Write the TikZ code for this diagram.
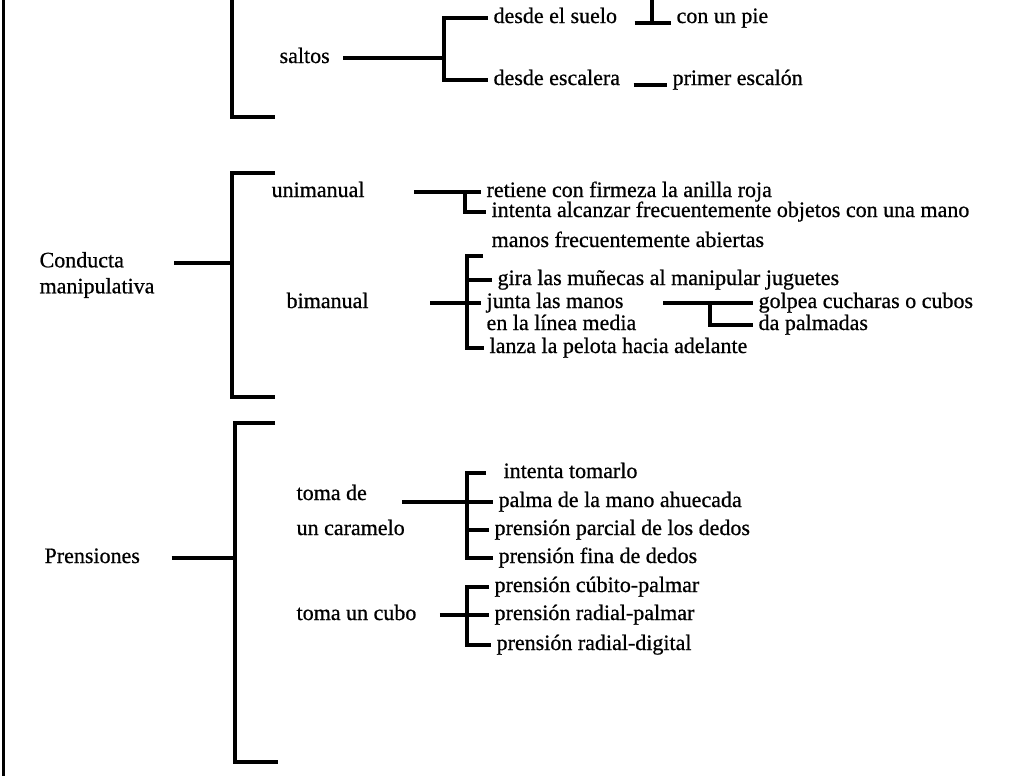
\documentclass[tikz,border=0pt]{standalone}
\usepackage{fontspec}
\setmainfont{Liberation Serif}[BoldFont={Liberation Serif}, BoldFeatures={FakeBold=0.7}]

\begin{document}
\begin{tikzpicture}[x=0.5pt, y=-0.5pt, line width=1.6pt, font=\fontsize{11}{13}\selectfont\bfseries]
        \tikzstyle{every node}=[anchor=west, inner sep=2pt, text height=0.7em, text depth=0.2em]
        \useasboundingbox (0,0) rectangle (1021,776);

        \coordinate (lt) at (3,0);
        \coordinate (lb) at (3,776);
        \draw[line width=1.5pt] (lt) -- (lb);

        \node   (saltos)     at (274,58)  {saltos};
        \node   (suelo)      at (488,18)  {desde el suelo};
        \node   (pie)        at (671,18)  {con un pie};
        \node   (escalera)   at (488,80)  {desde escalera};
        \node   (escalon)    at (667,80)  {primer escalón};

        \coordinate (s0)   at (232,0);
        \coordinate (s1)   at (275,117);
        \coordinate (sbr)  at (444,58);
        \coordinate (ptop) at (652,0);
        \draw (s0) |- (s1);
        \draw[shorten <=4pt] (saltos) -- (sbr);
        \draw (suelo.west) -| (sbr) |- (escalera.west);
        \draw ([xshift=6pt]suelo.base east) -- (pie.base west);
        \draw (ptop) -- (ptop |- pie.base west);
        \draw ([xshift=4pt]escalera.base east) -- (escalon.base west);

        \node[align=left, text height=, text depth=] (conducta) at (34,275) {Conducta\\manipulativa};
        \coordinate (cbr)  at (232,263);
        \coordinate (ctop) at (275,173);
        \coordinate (cbot) at (275,397);
        \draw[shorten <=7pt] (conducta.east |- cbr) -- (cbr);
        \draw (ctop) -| (cbr) |- (cbot);

        \node   (unimanual)  at (266,192) {unimanual};
        \node   (retiene)    at (481,192) {retiene con firmeza la anilla roja};
        \node   (intenta)    at (486,212) {intenta alcanzar frecuentemente objetos con una mano};
        \coordinate (ubr) at (465,192);
        \draw[shorten <=22pt] (unimanual) -- (retiene);
        \draw (ubr) |- (intenta.west);

        \node   (bimanual)   at (281,303) {bimanual};
        \node   (manos)      at (486,242) {manos frecuentemente abiertas};
        \node   (gira)       at (492,280) {gira las muñecas al manipular juguetes};
        \node   (junta)      at (481,303) {junta las manos};
        \node   (linea)      at (481,325) {en la línea media};
        \node   (lanza)      at (484,348) {lanza la pelota hacia adelante};
        \node   (golpea)     at (753,303) {golpea cucharas o cubos};
        \node   (palmadas)   at (753,325) {da palmadas};
        \coordinate (bbr)  at (467,303);
        \coordinate (btop) at (483,256);
        \coordinate (gbr)  at (710,303);
        \draw[shorten <=28pt] (bimanual) -- (junta);
        \draw (btop) -| (bbr) |- (lanza.west);
        \draw (bbr |- gira.west) -- (gira.west);
        \draw[shorten <=17pt] (junta) -- (golpea);
        \draw (gbr) |- (palmadas.west);

        \node   (prensiones) at (39,558)  {Prensiones};
        \coordinate (pbr)   at (235,558);
        \coordinate (prtop) at (275,423);
        \coordinate (prbot) at (278,762);
        \draw[shorten <=13pt] (prensiones) -- (pbr);
        \draw (prtop) -| (pbr) |- (prbot);

        \node   (tomade)     at (291,495) {toma de};
        \node   (caramelo)   at (291,530) {un caramelo};
        \node   (tomarlo)    at (498,473) {intenta tomarlo};
        \node   (palma)      at (493,502) {palma de la mano ahuecada};
        \node   (parcial)    at (489,530) {prensión parcial de los dedos};
        \node   (fina)       at (493,558) {prensión fina de dedos};
        \coordinate (kbr) at (467,502);
        \draw[shorten <=15pt] (tomade.east |- kbr) -- (palma.west);
        \draw[shorten <=6pt] (tomarlo.west) -| (kbr) |- (fina.west);
        \draw (kbr |- parcial.west) -- (parcial.west);

        \node   (cubo)       at (291,615) {toma un cubo};
        \node   (cubito)     at (489,587) {prensión cúbito-palmar};
        \node   (radialp)    at (489,615) {prensión radial-palmar};
        \node   (radiald)    at (491,645) {prensión radial-digital};
        \coordinate (tbr) at (467,615);
        \draw[shorten <=9pt] (cubo) -- (radialp);
        \draw (cubito.west) -| (tbr) |- (radiald.west);

    \end{tikzpicture}
\end{document}
